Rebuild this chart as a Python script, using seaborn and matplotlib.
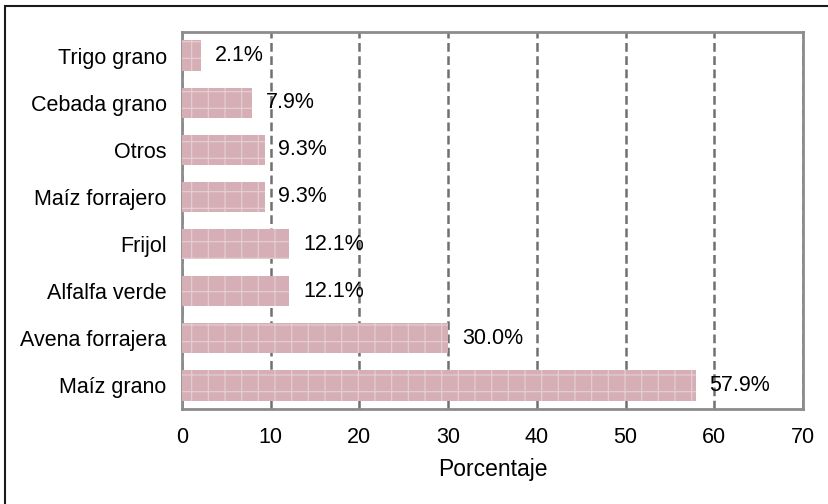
import pandas as pd
import numpy as np
from matplotlib import pyplot as plt
from matplotlib.patches import Rectangle
import seaborn as sns

# Datos (de arriba hacia abajo)
cultivos = ["Trigo grano", "Cebada grano", "Otros", "Maíz forrajero",
            "Frijol", "Alfalfa verde", "Avena forrajera", "Maíz grano"]
porcentaje = [2.1, 7.9, 9.3, 9.3, 12.1, 12.1, 30.0, 57.9]
xticks = [0, 10, 20, 30, 40, 50, 60, 70]

df = pd.DataFrame({"cultivo": cultivos, "pct": porcentaje})

sns.set_theme(style="white")
plt.rcParams["font.family"] = ["Liberation Sans", "DejaVu Sans"]
plt.rcParams["hatch.color"] = "#e4cdd1"
plt.rcParams["hatch.linewidth"] = 0.9

fig = plt.figure(figsize=(8.29, 5.04), dpi=100)
ax = fig.add_axes([182 / 829, 1 - 409 / 504, (803 - 182) / 829, (409 - 32) / 504])

sns.barplot(data=df, x="pct", y="cultivo", order=cultivos, color="#d5aeb6",
            width=0.64, saturation=1, ax=ax, zorder=3)
for patch in ax.patches:
    patch.set_hatch("+")
    patch.set_edgecolor("#e4cdd1")
    patch.set_linewidth(0)

# Etiquetas de valor
for i, v in enumerate(porcentaje):
    ax.annotate(f"{v:.1f}%", xy=(v, i), xytext=(10, 0), textcoords="offset points",
                va="center", ha="left", fontsize=15.5, color="black", zorder=5)

ax.set_xlim(0, 70)
ax.set_xticks(xticks)
ax.set_xticklabels([str(t) for t in xticks])
ax.tick_params(axis="both", length=0, labelsize=15.5, colors="black")
ax.tick_params(axis="y", pad=11)
ax.tick_params(axis="x", pad=13)
ax.set_ylabel("")
ax.set_xlabel("Porcentaje", fontsize=16.5, color="black", labelpad=7)

ax.xaxis.grid(True, color="#707070", linestyle=(0, (3.5, 1.8)), linewidth=1.8, zorder=0)
ax.set_axisbelow(True)
for s in ax.spines.values():
    s.set_visible(True)
    s.set_color("#8c8c8c")
    s.set_linewidth(2)

# Borde exterior del gráfico
fig.patches.append(Rectangle((5 / 829, -0.5), 2, 0.5 + 1 - 6 / 504, transform=fig.transFigure,
                             fill=False, edgecolor="#1a1a1a", linewidth=1.5))

plt.savefig("out.png", dpi=100)
